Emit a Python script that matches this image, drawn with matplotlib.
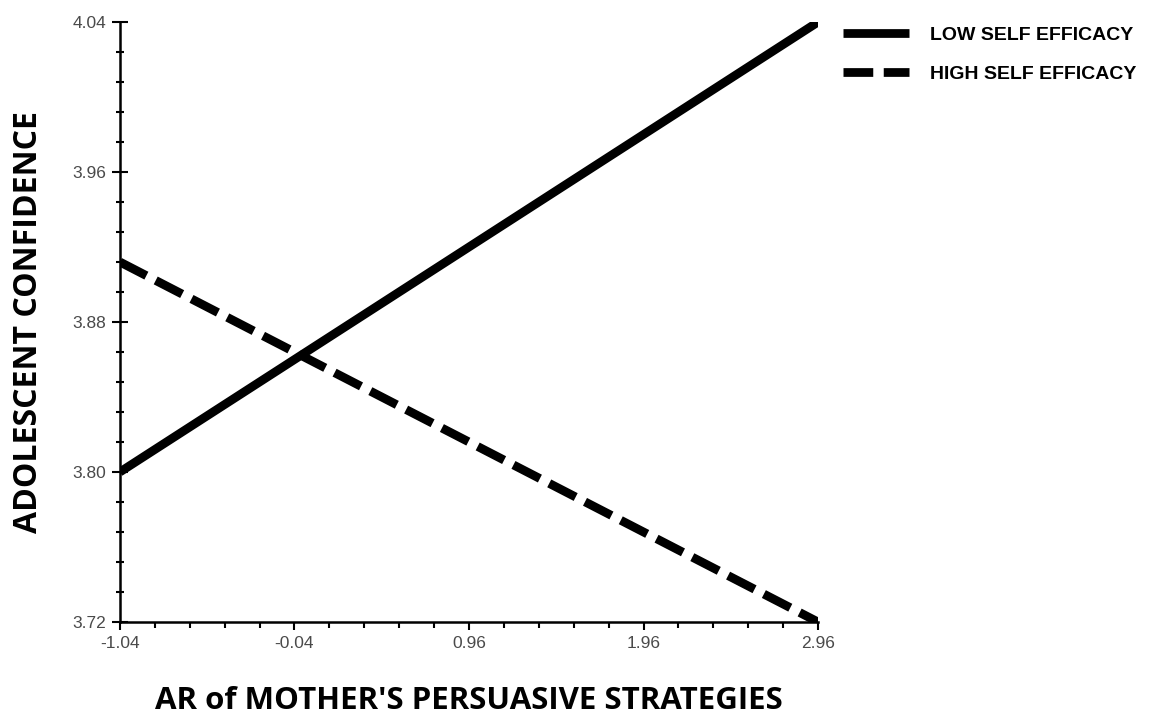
import numpy as np
import matplotlib.pyplot as plt
from matplotlib.ticker import MultipleLocator, FixedLocator

# simple slopes: adolescent confidence vs AR of mother's persuasive strategies
x_ends = [-1.04, 2.96]
low_efficacy = [3.80, 4.04]
high_efficacy = [3.912, 3.72]
x_ticks = [-1.04, -0.04, 0.96, 1.96, 2.96]
y_ticks = [3.72, 3.80, 3.88, 3.96, 4.04]

fig = plt.figure(figsize=(11.6, 7.17), dpi=100)
ax = fig.add_axes([0.1034, 0.1325, 0.6018, 0.8368])

lw = 6.3
ax.plot(x_ends, low_efficacy, color='black', lw=lw, solid_capstyle='butt',
        label='LOW SELF EFFICACY')
ax.plot(x_ends, high_efficacy, color='black', lw=lw, dashes=(3.4, 1.2),
        dash_capstyle='butt', label='HIGH SELF EFFICACY')

ax.set_xlim(-1.04, 2.96)
ax.set_ylim(3.72, 4.04)
ax.xaxis.set_major_locator(FixedLocator(x_ticks))
ax.yaxis.set_major_locator(FixedLocator(y_ticks))
ax.xaxis.set_minor_locator(MultipleLocator(0.2, offset=-1.04))
ax.yaxis.set_minor_locator(MultipleLocator(0.016, offset=3.72))
ax.set_xticklabels(['%.2f' % v for v in x_ticks])
ax.set_yticklabels(['%.2f' % v for v in y_ticks])

for side in ['top', 'right']:
    ax.spines[side].set_visible(False)
for side in ['left', 'bottom']:
    ax.spines[side].set_linewidth(1.8)

tick_font = dict(labelsize=12.5, labelcolor='#4a4a4a')
ax.tick_params(axis='x', which='major', direction='out', length=6, width=1.5, pad=4, **tick_font)
ax.tick_params(axis='x', which='minor', direction='out', length=4, width=1.5)
ax.tick_params(axis='y', which='major', direction='inout', length=12, width=1.5, pad=4, **tick_font)
ax.tick_params(axis='y', which='minor', direction='inout', length=6, width=1.5)
for lab in ax.get_xticklabels() + ax.get_yticklabels():
    lab.set_family('Liberation Sans')

ax.set_xlabel("AR of MOTHER'S PERSUASIVE STRATEGIES", fontsize=22.5, fontweight='bold',
              family='Open Sans')
ax.set_ylabel('ADOLESCENT CONFIDENCE', fontsize=23, fontweight='bold',
              family='Open Sans')
ax.xaxis.set_label_coords(0.5, -0.106)
ax.yaxis.set_label_coords(-0.108, 0.5)

leg = ax.legend(loc='upper left', bbox_to_anchor=(0.712, 0.988), bbox_transform=fig.transFigure,
                frameon=False, handlelength=3.35, handletextpad=1.1, labelspacing=1.1,
                prop={'family': 'Liberation Sans', 'weight': 'bold', 'size': 14})

fig.savefig('out.png', dpi=100)
